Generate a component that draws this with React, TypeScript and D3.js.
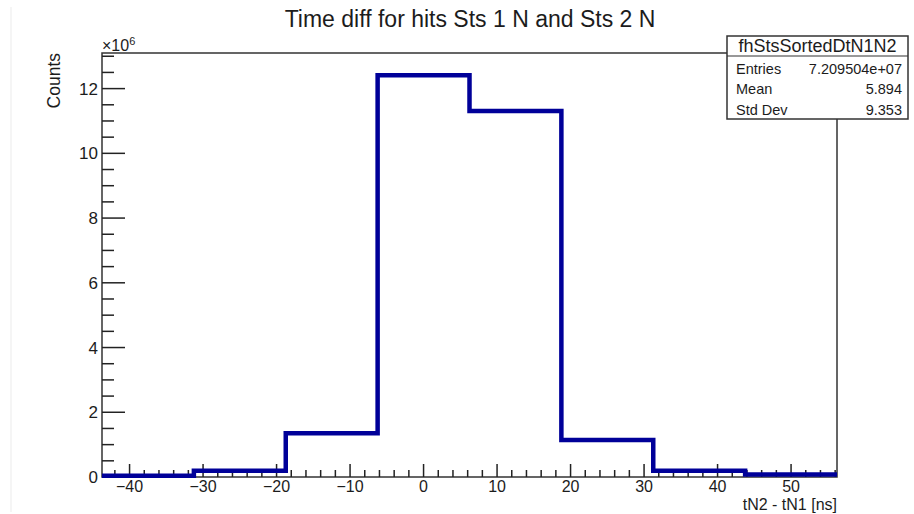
import React from "react";
import * as d3 from "d3";

// Histogram bins: lower edges (ns) and counts (in units of 10^6)
const binLowEdges = [-43.75, -31.25, -18.75, -6.25, 6.25, 18.75, 31.25, 43.75];
const binWidth = 12.5;
const binCounts = [0.04, 0.19, 1.35, 12.41, 11.31, 1.14, 0.19, 0.08];

const xMajorTicks = [-40, -30, -20, -10, 0, 10, 20, 30, 40, 50];
const yMajorTicks = [0, 2, 4, 6, 8, 10, 12];

const statsName = "fhStsSortedDtN1N2";
const statsLabels = ["Entries", "Mean", "Std Dev"];
const statsValues = ["7.209504e+07", "5.894", "9.353"];

const W = 914;
const H = 514;
const frame = { left: 102, right: 837, top: 53, bottom: 477 };
const FONT = "'Liberation Sans', Arial, Helvetica, sans-serif";
const INK = "#1c1c1c";
const HIST = "#000099";

export default function App() {
  const xMin = binLowEdges[0];
  const xMax = binLowEdges[binLowEdges.length - 1] + binWidth;
  const x = d3.scaleLinear().domain([xMin, xMax]).range([frame.left, frame.right]);
  const y = d3.scaleLinear().domain([0, 13.1]).range([frame.bottom, frame.top]);

  const xMinor = d3.range(-42, xMax, 2).filter((v) => v % 10 !== 0);
  const yMinor = d3.range(0, 13.1, 0.5).filter((v) => v % 2 !== 0);

  // Step outline of the histogram
  const pts: [number, number][] = [];
  binLowEdges.forEach((lo, i) => {
    pts.push([lo, binCounts[i]]);
    pts.push([lo + binWidth, binCounts[i]]);
  });
  const line = d3
    .line<[number, number]>()
    .x((d) => x(d[0]))
    .y((d) => y(d[1]));

  const box = { left: 727, right: 908, top: 36, sep: 56, bottom: 119 };
  const rowBase = [73.5, 94, 114.5];

  return (
    <svg
      width={W}
      height={H}
      style={{ position: "fixed", left: 0, top: 0, background: "#fff" }}
      fontFamily={FONT}
    >
      <rect x={0} y={0} width={W} height={H} fill="#fff" />
      <line x1={11} x2={11} y1={7} y2={512} stroke="#ebebeb" strokeWidth={1} />

      {/* Title */}
      <text x={470} y={27} fontSize={23} textAnchor="middle" fill={INK}>
        Time diff for hits Sts 1 N and Sts 2 N
      </text>

      {/* Frame */}
      <rect
        x={frame.left}
        y={frame.top}
        width={frame.right - frame.left}
        height={frame.bottom - frame.top}
        fill="none"
        stroke="#333"
        strokeWidth={1.5}
      />

      {/* Y axis ticks */}
      {yMajorTicks.map((v) => (
        <g key={"ym" + v}>
          <line x1={frame.left} x2={frame.left + 23} y1={y(v)} y2={y(v)} stroke="#222" strokeWidth={1.5} />
          <text x={98} y={y(v)} dy="0.36em" fontSize={17} textAnchor="end" fill={INK}>
            {v}
          </text>
        </g>
      ))}
      {yMinor.map((v) => (
        <line key={"yn" + v} x1={frame.left} x2={frame.left + 12} y1={y(v)} y2={y(v)} stroke="#222" strokeWidth={1.5} />
      ))}

      {/* X axis ticks */}
      {xMajorTicks.map((v) => (
        <g key={"xm" + v}>
          <line x1={x(v)} x2={x(v)} y1={frame.bottom} y2={frame.bottom - 13} stroke="#222" strokeWidth={1.5} />
          <text x={x(v)} y={492} fontSize={16} textAnchor="middle" fill={INK}>
            {v < 0 ? "\u2212" + Math.abs(v) : String(v)}
          </text>
        </g>
      ))}
      {xMinor.map((v) => (
        <line key={"xn" + v} x1={x(v)} x2={x(v)} y1={frame.bottom} y2={frame.bottom - 7} stroke="#222" strokeWidth={1.5} />
      ))}

      {/* Exponent label */}
      <text x={frame.left} y={51} fontSize={16} fill={INK}>
        ×10
        <tspan fontSize={11} dy={-6}>6</tspan>
      </text>

      {/* Axis titles */}
      <text
        transform={`translate(60,${frame.top}) rotate(-90)`}
        fontSize={17.5}
        textAnchor="end"
        fill={INK}
      >
        Counts
      </text>
      <text x={frame.right} y={510} fontSize={16} textAnchor="end" fill={INK}>
        tN2 - tN1 [ns]
      </text>

      {/* Histogram */}
      <path
        d={line(pts) || ""}
        fill="none"
        stroke={HIST}
        strokeWidth={4.5}
        strokeLinejoin="miter"
      />

      {/* Statistics box */}
      <rect
        x={box.left}
        y={box.top}
        width={box.right - box.left}
        height={box.bottom - box.top}
        fill="#fff"
        stroke="#333"
        strokeWidth={1.5}
      />
      <line x1={box.left} x2={box.right} y1={box.sep} y2={box.sep} stroke="#333" strokeWidth={1.2} />
      <text x={(box.left + box.right) / 2} y={52} fontSize={18} textAnchor="middle" fill={INK}>
        {statsName}
      </text>
      {statsLabels.map((lab, i) => (
        <g key={lab}>
          <text x={box.left + 9} y={rowBase[i]} fontSize={14.5} fill={INK}>
            {lab}
          </text>
          <text x={box.right - 6} y={rowBase[i]} fontSize={14.5} textAnchor="end" fill={INK}>
            {statsValues[i]}
          </text>
        </g>
      ))}
    </svg>
  );
}
